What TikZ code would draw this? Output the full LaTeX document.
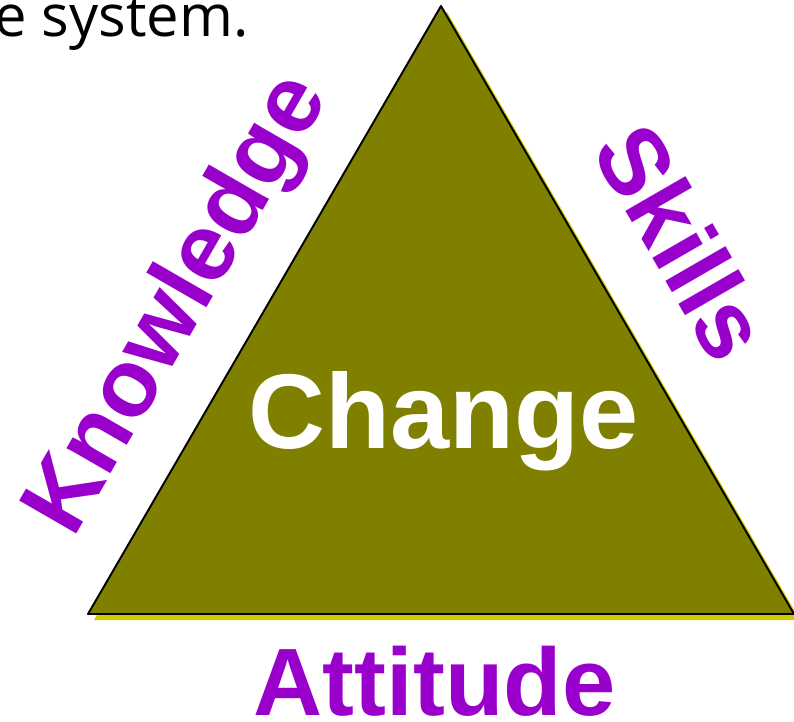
\documentclass[tikz,border=0pt]{standalone}
\usepackage{fontspec}
\setmainfont{Liberation Sans}
\newfontfamily\captfont{Open Sans}
\definecolor{olivefill}{RGB}{128,128,0}
\definecolor{shadowyel}{RGB}{204,204,0}
\definecolor{labelpurple}{RGB}{153,0,204}
\tikzset{
  sidelabel/.style={text=labelpurple, font=\fontsize{54.5}{60}\selectfont\bfseries, inner sep=0pt, anchor=base},
}
\begin{document}
\begin{tikzpicture}[x=.02cm, y=-.02cm, line join=round, line cap=round]
	\useasboundingbox (0,0) rectangle (794,721);
	% corners of the triangle
	\coordinate (top) at (441,6);
	\coordinate (left) at (88,614);
	\coordinate (right) at (794,614);
	\fill[shadowyel]([shift={(6,6)}]top)--([shift={(6,6)}]left)--([shift={(6,6)}]right)--cycle;
	\draw[fill=olivefill, line width=1.1pt](top)--(left)--(right)--cycle;
	\node[inner sep=0pt, anchor=base west, font=\captfont\fontsize{33}{38}\selectfont] (caption) at (-6,36) {e system.};
	\node[sidelabel, rotate=60] (know) at (201,318) {Knowledge};
	\node[sidelabel, rotate=-60] (skill) at (653,259) {Skills};
	\node[sidelabel] (att) at (434.5,715) {Attitude};
	\node[sidelabel, text=white, font=\fontsize{60.5}{66}\selectfont\bfseries] (chg) at (443.5,448) {Change};
\end{tikzpicture}
\end{document}
